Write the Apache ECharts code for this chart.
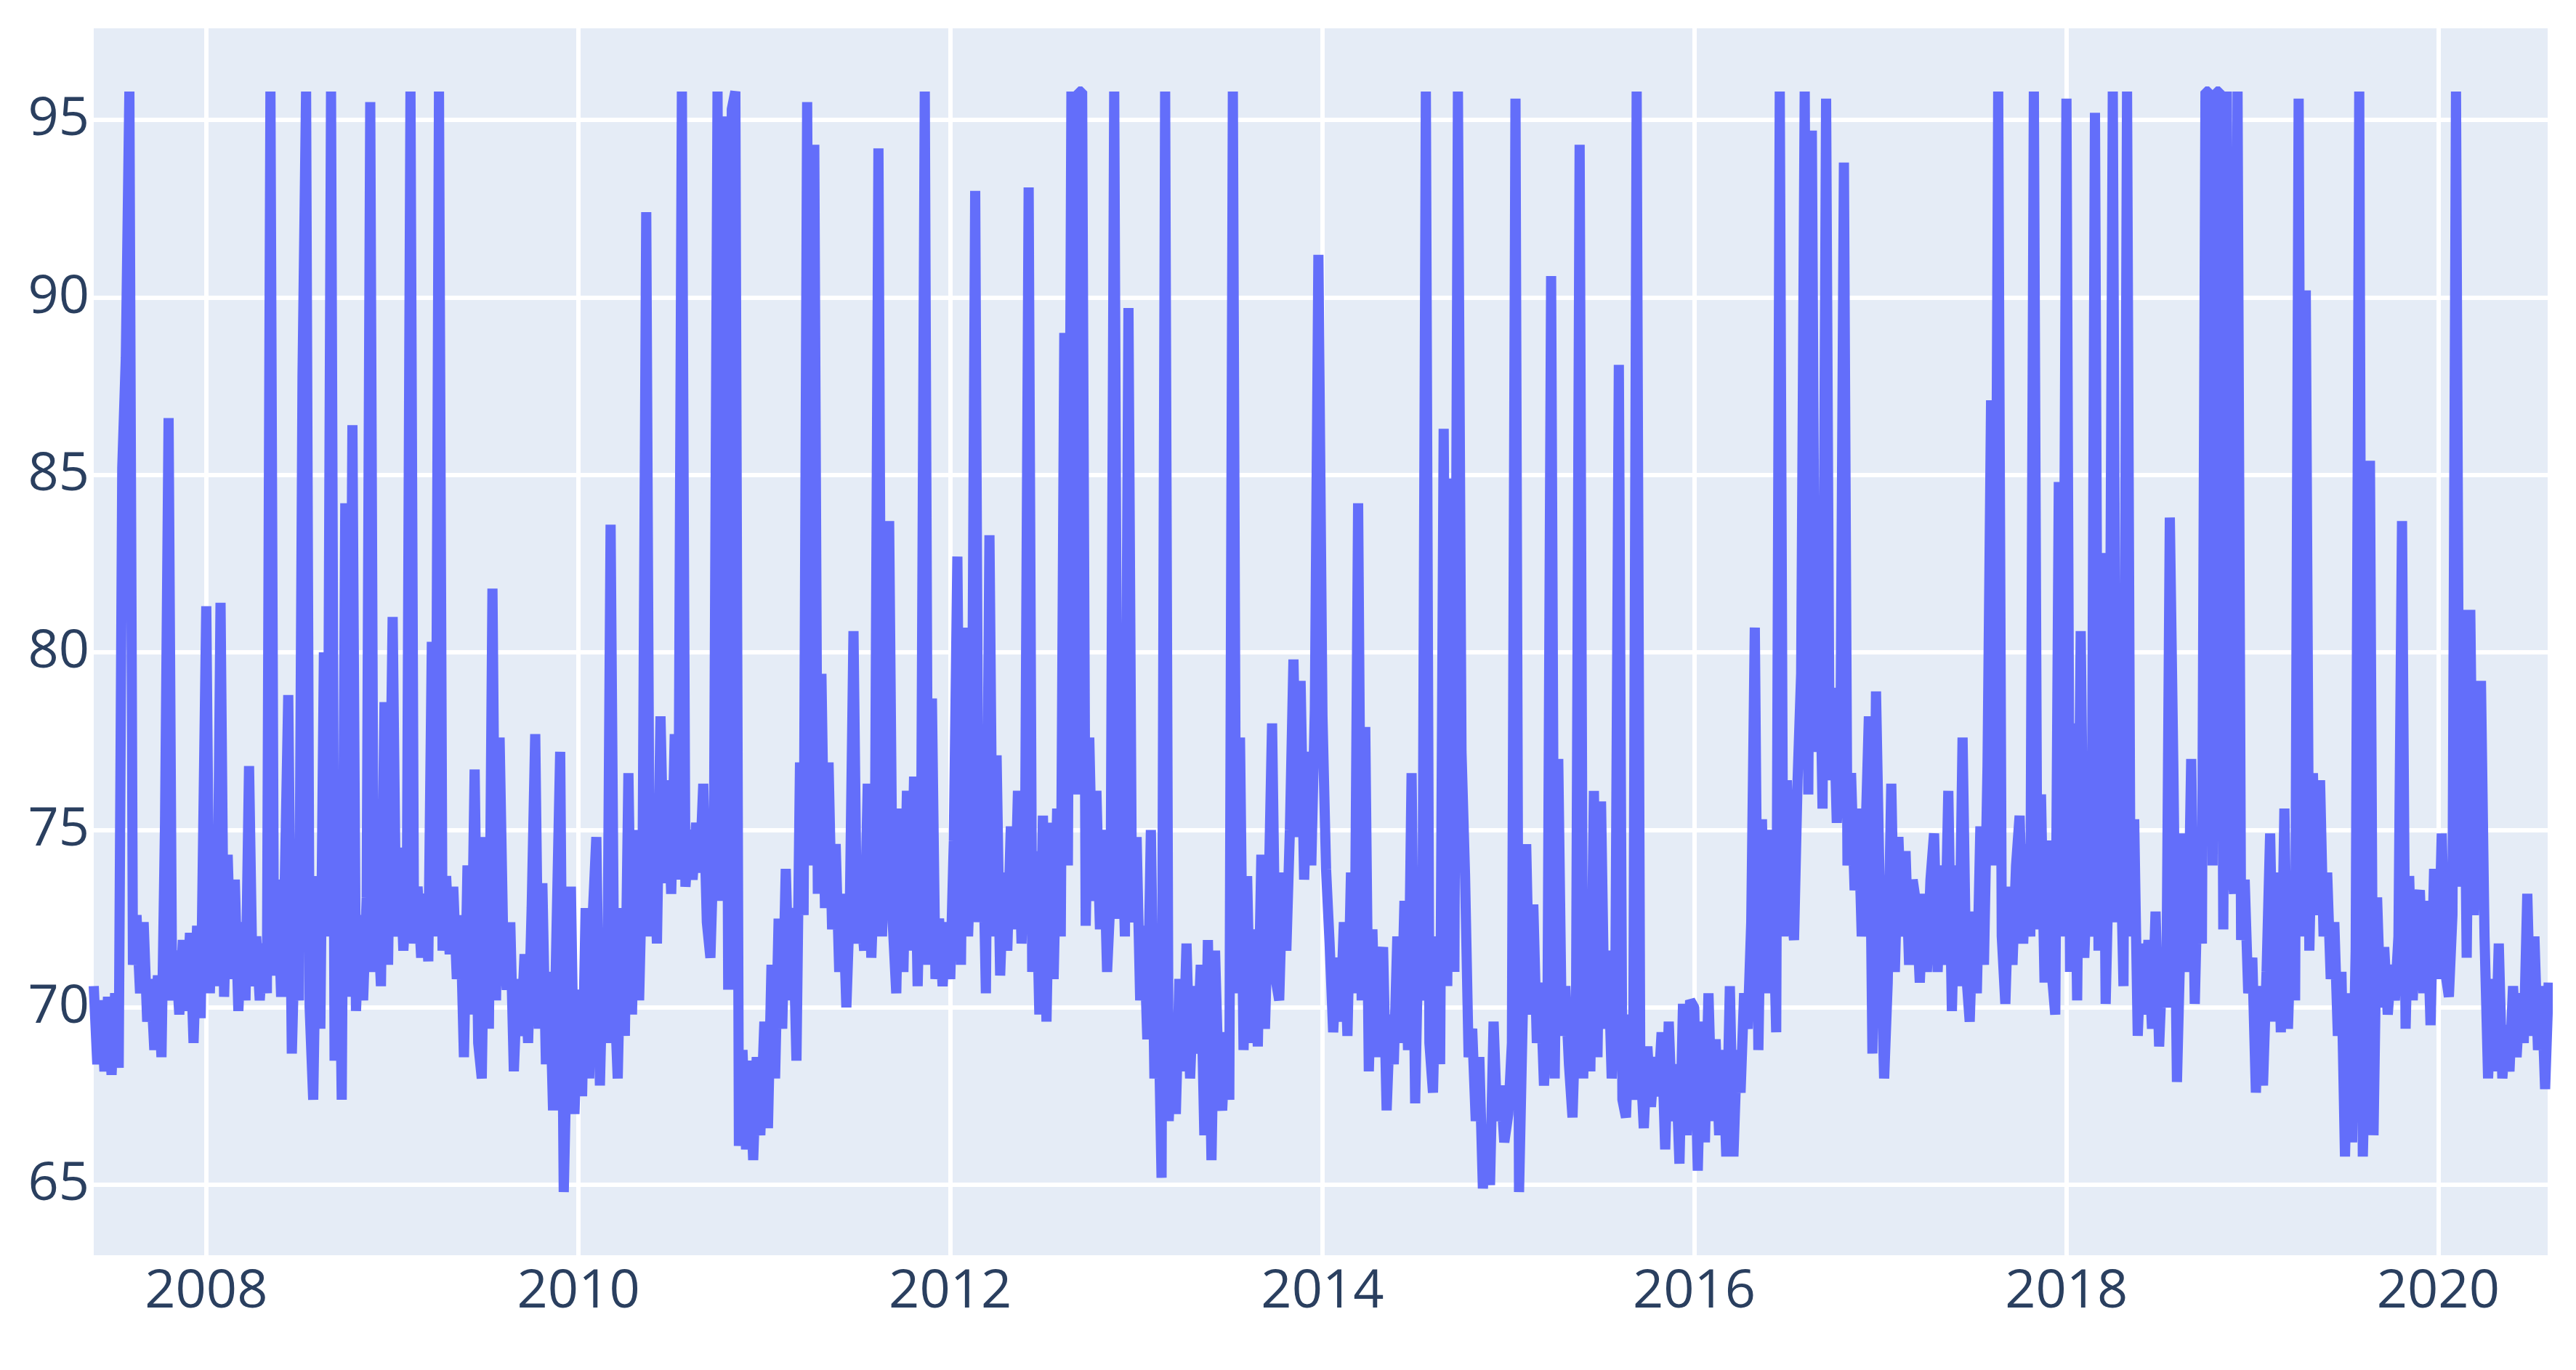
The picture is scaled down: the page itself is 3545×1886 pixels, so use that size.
<!DOCTYPE html>
<html>
<head>
<meta charset="utf-8">
<script src="https://cdn.jsdelivr.net/npm/echarts@6/dist/echarts.min.js"></script>
<style>
  html, body { margin: 0; padding: 0; background: #fff; }
  #chart { width: 3545px; height: 1886px; }
</style>
</head>
<body>
<div id="chart"></div>
<script>
// weekly readings, each year's list starts on 1 Jan (2007 starts on 25 May)
const values2007 = [70.6, 68.4, 70.2, 68.2, 70.3, 68.1, 70.4, 68.3, 85.2, 88.3, 95.8, 71.2, 72.6, 70.4, 72.4, 69.6,
  70.8, 68.8, 70.9, 68.6, 75.2, 86.6, 70.2, 71.6, 69.8, 71.9, 69.9, 72.1, 69.0, 72.3, 69.7];
const values2008 = [81.3, 70.4, 74.2, 70.6, 81.4, 70.3, 74.3, 70.8, 73.6, 69.9, 72.4, 70.2, 76.8, 70.6, 72.0, 70.2,
  71.8, 70.4, 95.8, 70.9, 73.6, 70.3, 73.4, 78.8, 68.7, 72.6, 70.2, 87.8, 95.8, 70.0, 67.4, 73.7,
  69.4, 80.0, 72.0, 95.8, 68.5, 75.6, 67.4, 84.2, 70.3, 86.4, 69.9, 72.6, 70.2, 73.1, 95.5, 71.0,
  73.0, 70.6, 78.6, 71.2];
const values2009 = [81.0, 72.0, 74.5, 71.6, 73.4, 95.8, 71.8, 73.4, 71.4, 73.2, 71.3, 80.3, 72.0, 95.8, 71.6, 73.7,
  71.5, 73.4, 70.8, 72.6, 68.6, 74.0, 69.8, 76.7, 69.0, 68.0, 74.8, 69.4, 81.8, 70.2, 77.6, 72.0,
  70.5, 72.4, 68.2, 70.8, 69.2, 71.5, 69.0, 72.8, 77.7, 69.4, 73.5, 68.4, 71.0, 67.1, 72.3, 77.2,
  64.8, 69.5, 73.4, 67.0];
const values2010 = [70.5, 67.5, 72.8, 68.0, 72.6, 74.8, 67.8, 72.0, 69.0, 83.6, 70.6, 68.0, 72.8, 69.2, 76.6, 69.8,
  75.0, 70.2, 74.5, 92.4, 72.0, 75.2, 71.8, 78.2, 73.5, 76.4, 73.2, 77.7, 73.6, 95.8, 73.4, 75.0,
  73.6, 75.2, 73.8, 76.3, 72.4, 71.4, 74.8, 95.8, 73.0, 95.1, 70.5, 95.3, 95.8, 66.1, 68.8, 66.0,
  68.5, 65.7, 68.6, 66.4];
const values2011 = [69.6, 66.6, 71.2, 68.0, 72.5, 69.4, 73.9, 70.2, 72.8, 68.5, 76.9, 72.6, 95.5, 74.0, 94.3, 73.2,
  79.4, 72.8, 76.9, 72.2, 74.6, 71.0, 73.2, 70.0, 73.0, 80.6, 71.8, 72.9, 71.6, 76.3, 71.4, 74.2,
  94.2, 72.0, 75.4, 83.7, 72.4, 70.4, 75.6, 71.0, 76.1, 71.6, 76.5, 70.6, 75.2, 95.8, 71.2, 78.7,
  70.8, 72.5, 70.6, 72.4];
const values2012 = [70.8, 74.7, 82.7, 71.2, 80.7, 72.0, 75.0, 93.0, 72.4, 75.6, 70.4, 83.3, 72.0, 77.1, 70.9, 73.8,
  71.6, 75.1, 72.2, 76.1, 71.8, 74.8, 93.1, 71.0, 74.4, 69.8, 75.4, 69.6, 75.2, 70.8, 75.6, 72.0,
  89.0, 74.0, 95.8, 76.0, 95.8, 95.8, 72.3, 77.6, 73.0, 76.1, 72.2, 75.0, 71.0, 73.2, 95.8, 72.5,
  75.9, 72.0, 89.7, 72.4];
const values2013 = [74.8, 70.2, 72.3, 69.1, 75.0, 68.0, 70.6, 65.2, 95.8, 66.8, 69.4, 67.0, 70.8, 68.2, 71.8, 68.0,
  70.6, 68.7, 71.2, 66.4, 71.9, 65.7, 71.6, 68.0, 67.1, 69.3, 67.4, 95.8, 70.4, 77.6, 68.8, 73.7,
  69.0, 72.2, 68.9, 74.3, 69.4, 73.0, 78.0, 70.8, 70.2, 73.8, 71.6, 75.0, 79.8, 74.8, 79.2, 73.6,
  77.2, 74.0, 78.4, 91.2];
const values2014 = [78.2, 73.9, 71.8, 69.3, 71.4, 69.6, 72.4, 69.2, 73.8, 70.4, 84.2, 70.2, 77.9, 68.2, 72.2, 68.6,
  70.8, 71.7, 67.1, 69.8, 68.4, 72.0, 69.0, 73.0, 68.8, 76.6, 67.3, 72.4, 70.2, 95.8, 69.0, 67.6,
  72.0, 68.4, 86.3, 70.6, 84.9, 71.0, 95.8, 77.2, 73.7, 68.6, 69.4, 66.8, 68.6, 64.9, 66.6, 65.0,
  69.6, 66.8, 67.8, 66.2];
const values2015 = [67.0, 69.0, 95.6, 64.8, 69.6, 74.6, 69.8, 72.9, 69.0, 70.7, 67.8, 70.2, 90.6, 68.0, 77.0, 69.2,
  70.6, 68.4, 66.9, 70.2, 94.3, 68.0, 72.4, 68.2, 76.1, 68.6, 75.8, 69.4, 71.6, 68.0, 70.4, 88.1,
  67.4, 66.9, 69.8, 67.4, 95.8, 68.6, 66.6, 68.9, 67.2, 68.6, 67.5, 69.3, 66.0, 69.6, 66.8, 68.4,
  65.6, 70.1, 66.4, 70.2];
const values2016 = [70.0, 65.4, 69.6, 66.2, 70.4, 66.8, 69.1, 66.4, 68.8, 65.8, 70.6, 65.8, 68.8, 67.6, 70.4, 69.4,
  72.4, 80.7, 68.8, 75.3, 70.4, 75.0, 73.6, 69.3, 95.8, 72.0, 76.4, 73.0, 71.9, 76.4, 79.4, 95.8,
  76.0, 94.7, 77.2, 82.0, 75.6, 95.6, 76.4, 79.0, 75.2, 77.1, 93.8, 74.0, 76.6, 73.3, 75.6, 72.0,
  74.6, 78.2, 68.7, 78.9];
const values2017 = [72.0, 68.0, 70.7, 76.3, 71.0, 74.8, 72.0, 74.4, 71.2, 73.6, 72.9, 70.7, 73.2, 71.0, 73.6, 74.9,
  71.0, 74.0, 71.2, 76.1, 69.9, 74.0, 70.6, 77.6, 71.0, 69.6, 72.7, 70.4, 75.1, 71.2, 76.8, 87.1,
  74.0, 95.8, 72.0, 70.1, 73.4, 71.2, 74.0, 75.4, 71.8, 74.6, 72.0, 95.8, 72.2, 76.0, 70.7, 74.7,
  71.0, 69.8, 84.8, 72.0];
const values2018 = [95.6, 71.0, 78.0, 70.2, 80.6, 71.4, 74.2, 72.0, 95.2, 71.6, 82.8, 70.1, 74.6, 95.8, 72.4, 75.4,
  70.6, 95.8, 72.0, 75.3, 69.2, 71.8, 69.8, 71.9, 69.4, 72.7, 68.9, 71.4, 70.0, 83.8, 76.7, 67.9,
  72.0, 74.9, 71.0, 77.0, 70.1, 74.4, 71.8, 95.8, 95.8, 74.0, 95.8, 95.8, 72.2, 95.8, 74.6, 73.2,
  95.8, 71.9, 73.6, 70.4];
const values2019 = [71.4, 67.6, 70.6, 67.8, 71.0, 74.9, 69.6, 73.8, 69.3, 75.6, 69.4, 72.8, 70.2, 95.6, 72.0, 90.2,
  71.6, 76.6, 72.6, 76.4, 72.0, 73.8, 70.8, 72.4, 69.2, 71.0, 65.8, 70.4, 66.2, 71.6, 95.8, 65.8,
  70.2, 85.4, 66.4, 73.1, 70.0, 71.7, 69.8, 71.2, 70.2, 72.0, 83.7, 69.4, 73.7, 70.2, 72.8, 73.3,
  70.4, 73.0, 69.5, 73.9];
const values2020 = [70.8, 74.9, 71.0, 70.3, 72.6, 95.8, 73.4, 81.2, 71.4, 81.2, 72.6, 76.8, 79.2, 72.0, 68.0, 70.8,
  68.2, 71.8, 68.0, 69.5, 68.2, 70.6, 68.6, 70.4, 69.0, 73.2, 69.2, 72.0, 68.8, 70.6, 67.7, 70.7];

const years = [2007, 2008, 2009, 2010, 2011, 2012, 2013, 2014, 2015, 2016, 2017, 2018, 2019, 2020];
const yearValues = [values2007, values2008, values2009, values2010, values2011, values2012, values2013,
  values2014, values2015, values2016, values2017, values2018, values2019, values2020];

const xTickLabels = ['2008', '2010', '2012', '2014', '2016', '2018', '2020'];
const yTickLabels = [65, 70, 75, 80, 85, 90, 95];

const DAY = 86400000;
const firstDay = Date.UTC(2007, 4, 25);
const lastDay = Date.UTC(2020, 7, 3);

let points = [];
years.forEach((y, k) => {
  let t0 = y === 2007 ? firstDay : Date.UTC(y, 0, 1);
  yearValues[k].forEach((v, i) => {
    points.push([t0 + i * 7 * DAY, v]);
  });
});

const xTicks = xTickLabels.map(s => Date.UTC(+s, 0, 1));
const font = "'Open Sans', verdana, arial, sans-serif";

let chart = echarts.init(document.getElementById('chart'), null, {renderer: 'canvas'});
chart.setOption({
  animation: false,
  backgroundColor: '#fff',
  grid: {
    left: 129,
    right: 39,
    top: 39,
    bottom: 158,
    show: true,
    backgroundColor: '#e5ecf6',
    borderWidth: 0
  },
  xAxis: {
    type: 'value',
    min: firstDay,
    max: lastDay,
    axisLine: {show: false},
    axisTick: {show: false, customValues: xTicks},
    splitLine: {show: true, lineStyle: {color: '#ffffff', width: 6}},
    axisLabel: {
      customValues: xTicks,
      formatter: v => String(new Date(v).getUTCFullYear()),
      fontFamily: font,
      fontSize: 74,
      color: '#2a3f5f',
      margin: 14
    }
  },
  yAxis: {
    type: 'value',
    min: 63.02,
    max: 97.58,
    axisLine: {show: false},
    axisTick: {show: false, customValues: yTickLabels},
    splitLine: {show: true, lineStyle: {color: '#ffffff', width: 6}},
    axisLabel: {
      customValues: yTickLabels,
      fontFamily: font,
      fontSize: 74,
      color: '#2a3f5f',
      margin: 6
    }
  },
  series: [{
    type: 'line',
    data: points,
    showSymbol: false,
    clip: true,
    lineStyle: {color: '#636efa', width: 14, join: 'bevel'}
  }]
});
window.addEventListener('resize', chart.resize);
</script>
</body>
</html>
